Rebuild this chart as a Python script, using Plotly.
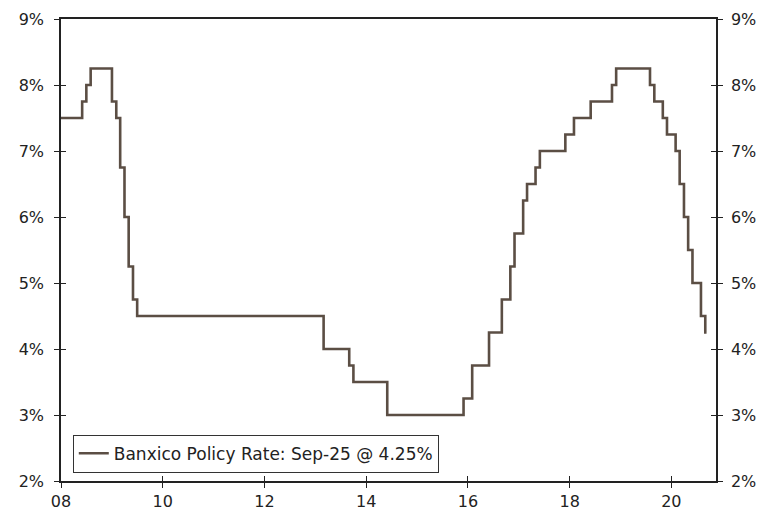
import plotly.graph_objects as go

# Banxico policy rate: month of each change and the new level (%)
change_months = [
    "2008-01", "2008-06", "2008-07", "2008-08",
    "2009-01", "2009-02", "2009-03", "2009-04", "2009-05",
    "2009-06", "2009-07",
    "2013-03", "2013-09", "2013-10", "2014-06",
    "2015-12", "2016-02", "2016-06", "2016-09", "2016-11",
    "2016-12", "2017-02", "2017-03", "2017-05", "2017-06",
    "2017-12", "2018-02", "2018-06", "2018-11", "2018-12",
    "2019-08", "2019-09", "2019-11", "2019-12",
    "2020-02", "2020-03", "2020-04", "2020-05", "2020-06",
    "2020-08", "2020-09", "2020-09-10",
]
rates = [
    7.50, 7.75, 8.00, 8.25,
    7.75, 7.50, 6.75, 6.00, 5.25,
    4.75, 4.50,
    4.00, 3.75, 3.50, 3.00,
    3.25, 3.75, 4.25, 4.75, 5.25,
    5.75, 6.25, 6.50, 6.75, 7.00,
    7.25, 7.50, 7.75, 8.00, 8.25,
    8.00, 7.75, 7.50, 7.25,
    7.00, 6.50, 6.00, 5.50, 5.00,
    4.50, 4.25, 4.25,
]
series_name = "Banxico Policy Rate: Sep-25 @ 4.25%"
y_ticks = [2, 3, 4, 5, 6, 7, 8, 9]
y_tick_labels = ["2%", "3%", "4%", "5%", "6%", "7%", "8%", "9%"]
x_ticks = ["2008-01-01", "2010-01-01", "2012-01-01", "2014-01-01",
           "2016-01-01", "2018-01-01", "2020-01-01"]
x_tick_labels = ["08", "10", "12", "14", "16", "18", "20"]
x_range = ["2008-01-01", "2020-11-17"]

LINE = "#5b4e44"
AX = "#222222"
YFONT = dict(family="DejaVu Sans, Verdana, sans-serif", size=16, color="#222222")
XFONT = dict(family="DejaVu Sans, Verdana, sans-serif", size=16, color="#222222")
LFONT = dict(family="DejaVu Sans, Verdana, sans-serif", size=17, color="#222222")

fig = go.Figure()
fig.add_trace(go.Scatter(
    x=change_months, y=rates, mode="lines", line=dict(color=LINE, width=2.6, shape="hv"),
    name=series_name, showlegend=True,
))
# invisible traces to anchor the extra axes (right labels, inward tick halves)
for xa, ya in [("x", "y2"), ("x", "y3"), ("x2", "y4"), ("x2", "y")]:
    fig.add_trace(go.Scatter(
        x=change_months[:1], y=rates[:1], xaxis=xa, yaxis=ya, mode="lines",
        line=dict(width=0), showlegend=False, hoverinfo="skip",
    ))

common_y = dict(range=[2, 9], tickvals=y_ticks, showgrid=False, zeroline=False,
                tickcolor=AX, tickwidth=1, ticklen=5, automargin=False)
common_x = dict(type="date", range=x_range, tickvals=x_ticks, showgrid=False,
                zeroline=False, tickcolor=AX, tickwidth=1, ticklen=5, automargin=False)

fig.update_layout(
    width=764, height=502,
    margin=dict(l=53, r=56, t=11, b=29),
    paper_bgcolor="white", plot_bgcolor="white",
    showlegend=True,
    legend=dict(
        x=0.018, y=0.018, xanchor="left", yanchor="bottom",
        bgcolor="white", bordercolor="#333333", borderwidth=1,
        font=LFONT, itemwidth=30, tracegroupgap=0,
    ),
    xaxis=dict(common_x, ticktext=x_tick_labels, ticks="outside",
               showline=True, linecolor=AX, linewidth=1.5, mirror=True,
               tickfont=XFONT),
    xaxis2=dict(common_x, overlaying="x", side="bottom", anchor="y", ticks="inside",
                showticklabels=False, showline=False),
    yaxis=dict(common_y, ticktext=y_tick_labels, ticks="outside",
               showline=True, linecolor=AX, linewidth=1.5, tickfont=YFONT,
               ticklabelstandoff=7),
    yaxis2=dict(common_y, overlaying="y", side="right", ticktext=y_tick_labels,
                ticks="outside", showline=True, linecolor=AX, linewidth=1.5,
                tickfont=YFONT, ticklabelstandoff=5),
    yaxis3=dict(common_y, overlaying="y", side="left", ticks="inside",
                showticklabels=False, showline=False),
    yaxis4=dict(common_y, overlaying="y", side="right", ticks="inside",
                showticklabels=False, showline=False),
)

fig.write_html("out.html")
